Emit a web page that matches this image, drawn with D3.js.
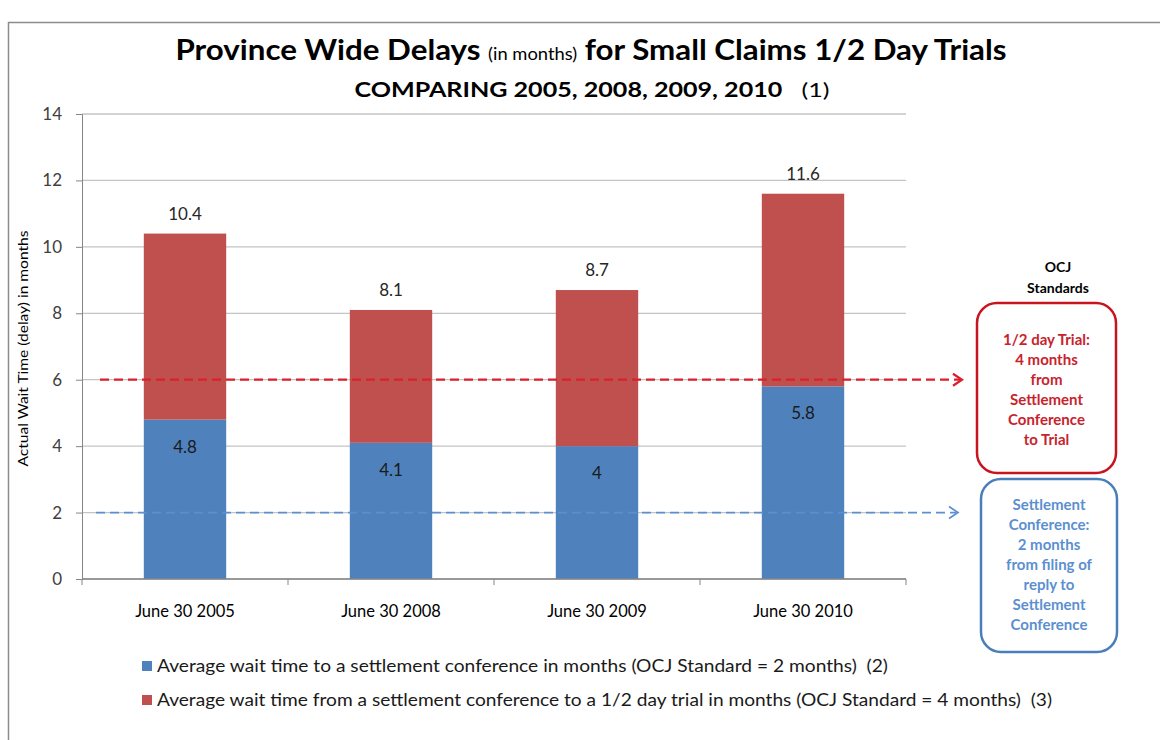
<!DOCTYPE html>
<html>
<head>
<meta charset="utf-8">
<script src="https://cdn.jsdelivr.net/npm/d3@7"></script>
<style>
  body { margin: 0; background: #fff; }
  svg { display: block; font-family: Lato, "Open Sans", sans-serif; }
  text { white-space: pre; }
</style>
</head>
<body>
<svg id="chart" width="1160" height="740"></svg>
<script>
// chart values
const categories = ["June 30 2005", "June 30 2008", "June 30 2009", "June 30 2010"];
const toConference = [4.8, 4.1, 4, 5.8];
const conferenceToTrial = [5.6, 4.0, 4.7, 5.8];
const totals = [10.4, 8.1, 8.7, 11.6];
const yTicks = [0, 2, 4, 6, 8, 10, 12, 14];
const seriesKeys = ["conference", "trial"];
const seriesNames = [
    "Average wait time to a settlement conference in months (OCJ Standard = 2 months)  (2)",
    "Average wait time from a settlement conference to a 1/2 day trial in months (OCJ Standard = 4 months)  (3)"
];
const standardValues = [6, 2];
const trialStandardText = ["1/2 day Trial:", "4 months", "from", "Settlement", "Conference", "to Trial"];
const conferenceStandardText = ["Settlement", "Conference:", "2 months", "from filing of", "reply to", "Settlement", "Conference"];

class StackedChart {

    constructor(_config) {
        this.config = {
            parentElement: _config.parentElement,
            left: 82,
            right: 906,
            top: 114,
            bottom: 579
        };
        this.colors = { conference: "#4f81bd", trial: "#c0504d" };
        this.initVis();
    }

    initVis() {
        let vis = this;
        vis.svg = d3.select(vis.config.parentElement);

        // outer chart frame (right/bottom edges fall outside the picture)
        vis.svg.append("rect")
            .attr("x", 8.5).attr("y", 22.5)
            .attr("width", 1200).attr("height", 800)
            .attr("fill", "none").attr("stroke", "#8c8c8c").attr("stroke-width", 1.5);

        vis.x = d3.scaleBand()
            .domain(categories)
            .range([vis.config.left, vis.config.right])
            .paddingInner(0.6)
            .paddingOuter(0.3);

        vis.y = d3.scaleLinear()
            .domain([0, 14])
            .range([vis.config.bottom, vis.config.top]);

        vis.updateVis();
    }

    updateVis() {
        let vis = this;
        vis.rows = categories.map((c, i) => ({
            category: c,
            conference: toConference[i],
            trial: conferenceToTrial[i],
            total: totals[i]
        }));
        vis.stacked = d3.stack().keys(seriesKeys)(vis.rows);
        vis.renderVis();
    }

    renderVis() {
        let vis = this;
        const cfg = vis.config;

        // titles
        const title = vis.svg.append("text")
            .attr("x", 591).attr("y", 60)
            .attr("text-anchor", "middle")
            .attr("textLength", 831).attr("lengthAdjust", "spacingAndGlyphs")
            .attr("font-weight", "bold")
            .attr("fill", "#000");
        title.append("tspan").attr("font-size", 29).text("Province Wide Delays ");
        title.append("tspan").attr("font-size", 17).attr("font-weight", "normal").text("(in months)");
        title.append("tspan").attr("font-size", 29).text(" for Small Claims 1/2 Day Trials");

        const sub = vis.svg.append("text")
            .attr("x", 592).attr("y", 97)
            .attr("text-anchor", "middle")
            .attr("textLength", 475).attr("lengthAdjust", "spacingAndGlyphs")
            .attr("font-size", 20);
        sub.append("tspan").attr("font-weight", "bold").text("COMPARING 2005, 2008, 2009, 2010");
        sub.append("tspan").text("   (1)");

        // gridlines
        vis.svg.append("g")
            .selectAll("line")
            .data(yTicks)
            .join("line")
            .attr("x1", cfg.left).attr("x2", cfg.right)
            .attr("y1", d => vis.y(d)).attr("y2", d => vis.y(d))
            .attr("stroke", "#c4c4c4").attr("stroke-width", 1.3);

        // y axis
        const yAxis = d3.axisLeft(vis.y).tickValues(yTicks).tickSize(6).tickPadding(14);
        const yg = vis.svg.append("g")
            .attr("transform", `translate(${cfg.left},0)`)
            .call(yAxis);
        yg.select(".domain").attr("stroke", "#868686");
        yg.selectAll(".tick line").attr("stroke", "#868686");
        yg.selectAll(".tick text")
            .attr("font-family", "Lato, sans-serif")
            .attr("font-size", 17).attr("fill", "#404040");

        vis.svg.append("text")
            .attr("transform", `translate(24,${(cfg.top + cfg.bottom) / 2 + 2}) rotate(-90)`)
            .attr("text-anchor", "middle")
            .attr("dy", "0.35em")
            .attr("font-size", 12.5)
            .attr("textLength", 236).attr("lengthAdjust", "spacingAndGlyphs")
            .attr("fill", "#000")
            .text("Actual Wait Time (delay) in months");

        // bars
        vis.svg.append("g")
            .selectAll("g")
            .data(vis.stacked)
            .join("g")
            .attr("fill", d => vis.colors[d.key])
            .selectAll("rect")
            .data(d => d)
            .join("rect")
            .attr("x", d => vis.x(d.data.category))
            .attr("width", vis.x.bandwidth())
            .attr("y", d => vis.y(d[1]))
            .attr("height", d => vis.y(d[0]) - vis.y(d[1]));

        // x axis with ticks at category boundaries
        const step = vis.x.step();
        const boundaries = d3.range(categories.length + 1).map(i => cfg.left + i * step);
        const xg = vis.svg.append("g");
        xg.append("line")
            .attr("x1", cfg.left).attr("x2", cfg.right)
            .attr("y1", cfg.bottom).attr("y2", cfg.bottom)
            .attr("stroke", "#868686").attr("stroke-width", 1.3);
        xg.selectAll(".bt")
            .data(boundaries)
            .join("line")
            .attr("class", "bt")
            .attr("x1", d => d).attr("x2", d => d)
            .attr("y1", cfg.bottom).attr("y2", cfg.bottom + 6)
            .attr("stroke", "#868686");
        xg.selectAll("text")
            .data(categories)
            .join("text")
            .attr("x", d => vis.x(d) + vis.x.bandwidth() / 2)
            .attr("y", cfg.bottom + 38)
            .attr("text-anchor", "middle")
            .attr("font-size", 16.5)
            .attr("fill", "#000")
            .text(d => d);

        // value labels
        vis.svg.append("g")
            .selectAll("text")
            .data(vis.rows)
            .join("text")
            .attr("x", d => vis.x(d.category) + vis.x.bandwidth() / 2)
            .attr("y", d => vis.y(d.total) - 14)
            .attr("text-anchor", "middle")
            .attr("font-size", 17).attr("fill", "#262626")
            .text(d => d.total);

        vis.svg.append("g")
            .selectAll("text")
            .data(vis.rows)
            .join("text")
            .attr("x", d => vis.x(d.category) + vis.x.bandwidth() / 2)
            .attr("y", d => vis.y(d.conference) + 33)
            .attr("text-anchor", "middle")
            .attr("font-size", 17).attr("fill", "#1a1a1a")
            .text(d => d.conference);

        // OCJ standard reference lines with arrows
        const refs = [
            { value: standardValues[0], x0: 100, tip: 962, color: "#dc1f2a", width: 2.2 },
            { value: standardValues[1], x0: 96, tip: 958, color: "#5b8fd0", width: 1.7 }
        ];
        const rg = vis.svg.append("g").selectAll("g").data(refs).join("g");
        rg.append("line")
            .attr("x1", d => d.x0).attr("x2", d => d.tip - 2)
            .attr("y1", d => vis.y(d.value)).attr("y2", d => vis.y(d.value))
            .attr("stroke", d => d.color).attr("stroke-width", d => d.width)
            .attr("stroke-dasharray", "9,5");
        rg.append("path")
            .attr("d", d => `M${d.tip - 9},${vis.y(d.value) - 6}L${d.tip},${vis.y(d.value)}L${d.tip - 9},${vis.y(d.value) + 6}`)
            .attr("fill", "none")
            .attr("stroke", d => d.color).attr("stroke-width", d => d.width);

        // OCJ standards side boxes
        const sg = vis.svg.append("g").attr("font-weight", "bold");
        sg.selectAll(".hdr")
            .data(["OCJ", "Standards"])
            .join("text")
            .attr("class", "hdr")
            .attr("x", 1058).attr("y", (d, i) => 272 + i * 21)
            .attr("text-anchor", "middle")
            .attr("font-size", 14).attr("fill", "#000")
            .text(d => d);

        const boxes = [
            { x: 977, y: 303, w: 139, h: 170, color: "#c8141e", text: "#c8232c", lines: trialStandardText, first: 345 },
            { x: 981, y: 479, w: 136, h: 173, color: "#4a7ebb", text: "#5b8fd0", lines: conferenceStandardText, first: 510 }
        ];
        boxes.forEach(b => {
            sg.append("rect")
                .attr("x", b.x).attr("y", b.y)
                .attr("width", b.w).attr("height", b.h)
                .attr("rx", 20)
                .attr("fill", "#fff")
                .attr("stroke", b.color).attr("stroke-width", 2.5);
            sg.append("g")
                .selectAll("text")
                .data(b.lines)
                .join("text")
                .attr("x", b.x + b.w / 2)
                .attr("y", (d, i) => b.first + i * 20)
                .attr("text-anchor", "middle")
                .attr("font-size", 15)
                .attr("fill", b.text)
                .text(d => d);
        });

        // legend
        const lg = vis.svg.append("g")
            .selectAll("g")
            .data(seriesKeys)
            .join("g")
            .attr("transform", (d, i) => `translate(142,${666 + i * 34})`);
        lg.append("rect")
            .attr("x", 0).attr("y", -5)
            .attr("width", 10).attr("height", 10)
            .attr("fill", d => vis.colors[d]);
        lg.append("text")
            .attr("x", 15).attr("dy", "0.35em")
            .attr("font-size", 16.5).attr("fill", "#1a1a1a")
            .attr("textLength", (d, i) => i === 0 ? 731 : 895)
            .attr("lengthAdjust", "spacingAndGlyphs")
            .text((d, i) => seriesNames[i]);
    }
}

let chart = new StackedChart({ parentElement: "#chart" });
</script>
</body>
</html>
